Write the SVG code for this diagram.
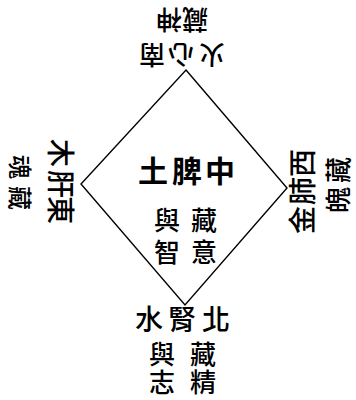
<svg xmlns="http://www.w3.org/2000/svg" width="356" height="400" viewBox="0 0 356 400">
<style>
  text { font-family: "Noto Sans CJK TC", "Noto Sans CJK SC", serif; fill: #000; text-anchor: middle; dominant-baseline: central; font-weight: 500; }
  .big { font-size: 28px; }
  .mid { font-size: 26px; }
  .sm { font-size: 24px; }
  .bold { font-size: 30px; font-weight: 700; }
  .edge { fill: none; stroke: #000; stroke-width: 1.4; stroke-linejoin: miter; }
</style>
<rect width="356" height="400" fill="#fff"/>
<g id="connectors">
  <polygon class="edge" points="186,70 287,188 185,305 81,184"/>
</g>
<g id="center">
  <text class="bold" x="153 187 220" y="169">土脾中</text>
  <text class="mid" x="204 204" y="218 250">藏意</text>
  <text class="mid" x="167 167" y="218 250">與智</text>
</g>
<g id="north">
  <text class="mid" transform="translate(152,56) rotate(180)">南</text>
  <text class="mid" transform="translate(181,56) rotate(180)">心</text>
  <text class="mid" transform="translate(212,56) rotate(180)">火</text>
  <text class="mid" transform="translate(169,21) rotate(180)">神</text>
  <text class="mid" transform="translate(195,21) rotate(180)">藏</text>
</g>
<g id="south">
  <text class="big" x="149 182 216" y="318">水腎北</text>
  <text class="mid" x="203 203" y="352 380">藏精</text>
  <text class="mid" x="162 162" y="352 380">與志</text>
</g>
<g id="east">
  <text class="big" transform="translate(62,153) rotate(90)">木</text>
  <text class="big" transform="translate(62,184) rotate(90)">肝</text>
  <text class="big" transform="translate(62,210) rotate(90)">東</text>
  <text class="sm" transform="translate(21,167) rotate(90)">魂</text>
  <text class="sm" transform="translate(21,198) rotate(90)">藏</text>
</g>
<g id="west">
  <text class="big" transform="translate(301,163) rotate(-90)">西</text>
  <text class="big" transform="translate(301,191) rotate(-90)">肺</text>
  <text class="big" transform="translate(301,220) rotate(-90)">金</text>
  <text class="mid" transform="translate(336,170) rotate(-90)">藏</text>
  <text class="mid" transform="translate(336,200) rotate(-90)">魄</text>
</g>
</svg>
